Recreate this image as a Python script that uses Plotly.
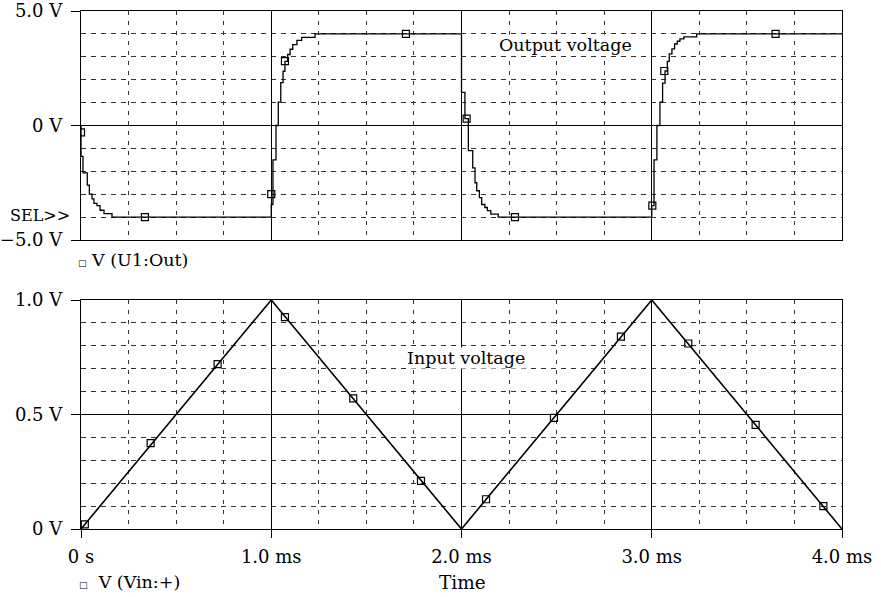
import plotly.graph_objects as go
from plotly.subplots import make_subplots

# ---- data (time in ms) ----
out_t = [0.0, 0.0, 0.0105, 0.033, 0.044, 0.058, 0.068, 0.084, 0.100, 0.121, 0.163,
         1.0, 1.009, 1.025, 1.037, 1.050, 1.062, 1.072, 1.086, 1.099, 1.113, 1.135, 1.160, 1.230,
         2.0, 2.018, 2.036, 2.059, 2.071, 2.080, 2.094, 2.106, 2.123, 2.136, 2.154, 2.193,
         3.0, 3.012, 3.027, 3.043, 3.057, 3.070, 3.082, 3.092, 3.106, 3.120, 3.134, 3.148, 3.169, 3.236,
         4.0]
out_v = [0.0, -1.35, -2.07, -2.6, -3.0, -3.2, -3.4, -3.5, -3.7, -3.85, -4.0,
         -3.45, -1.5, 0.0, 1.02, 1.87, 2.37, 2.8, 3.1, 3.33, 3.53, 3.72, 3.85, 4.0,
         1.45, 0.3, -1.1, -1.85, -2.5, -2.85, -3.15, -3.45, -3.58, -3.72, -3.87, -4.0,
         -3.5, -1.5, 0.0, 1.02, 1.85, 2.38, 2.8, 3.13, 3.35, 3.56, 3.68, 3.78, 3.87, 4.0,
         4.0]
out_mark_t = [0.0, 0.336, 1.0, 1.072, 1.708, 2.027, 2.281, 3.003, 3.066, 3.651]
out_mark_v = [-0.3, -4.0, -3.0, 2.81, 4.0, 0.3, -4.0, -3.5, 2.38, 4.0]

in_t = [0.0, 1.0, 2.0, 3.0, 4.0]
in_v = [0.0, 1.0, 0.0, 1.0, 0.0]
in_mark_t = [0.02, 0.366, 0.718, 1.072, 1.431, 1.787, 2.129, 2.486, 2.838, 3.192, 3.546, 3.902]
in_mark_v = [0.02, 0.375, 0.72, 0.925, 0.57, 0.21, 0.13, 0.485, 0.84, 0.81, 0.455, 0.1]

x_ticks = [0, 1, 2, 3, 4]
x_labels = ["0 s", "1.0 ms", "2.0 ms", "3.0 ms", "4.0 ms"]
top_ticks = [-5, 0, 5]
top_labels = ["\u22125.0 V", "0 V", "5.0 V"]
bot_ticks = [0, 0.5, 1.0]
bot_labels = ["0 V", "0.5 V", "1.0 V"]

FONT = "DejaVu Serif"
fig = make_subplots(rows=2, cols=1, vertical_spacing=0.116)

fig.add_trace(go.Scatter(x=out_t, y=out_v, mode="lines", line=dict(color="black", width=1.3, shape="hv"),
                         showlegend=False), row=1, col=1)
fig.add_trace(go.Scatter(x=out_mark_t, y=out_mark_v, mode="markers",
                         marker=dict(symbol="square-open", size=7, color="black", line=dict(width=1.2)),
                         showlegend=False), row=1, col=1)
fig.add_trace(go.Scatter(x=in_t, y=in_v, mode="lines", line=dict(color="black", width=1.6),
                         showlegend=False), row=2, col=1)
fig.add_trace(go.Scatter(x=in_mark_t, y=in_mark_v, mode="markers",
                         marker=dict(symbol="square-open", size=7, color="black", line=dict(width=1.2)),
                         showlegend=False), row=2, col=1)

hdash = "5px,5px"
vdash = "4px,6px"
common_x = dict(range=[0, 4], tickmode="array", tickvals=x_ticks, showgrid=True, gridcolor="black",
                gridwidth=1, zeroline=False, showline=True, mirror=True, linecolor="black", linewidth=1.3,
                automargin=False,
                minor=dict(tickmode="linear", tick0=0, dtick=0.25, showgrid=True, griddash=vdash,
                           gridcolor="#333", gridwidth=1, ticks=""))
fig.update_xaxes(**common_x, row=1, col=1, showticklabels=False, ticks="")
fig.update_xaxes(**common_x, row=2, col=1, ticktext=x_labels, ticks="outside", ticklen=8,
                 tickcolor="black", tickwidth=1.3, ticklabelstandoff=3)

common_y = dict(tickmode="array", showgrid=True, gridcolor="black", gridwidth=1, zeroline=False,
                showline=True, mirror=True, linecolor="black", linewidth=1.3, ticks="outside",
                ticklen=9, tickcolor="black", tickwidth=1.3, ticklabelstandoff=5, automargin=False)
fig.update_yaxes(**common_y, row=1, col=1, range=[-5, 5], tickvals=top_ticks, ticktext=top_labels,
                 minor=dict(tickmode="linear", tick0=0, dtick=1, showgrid=True, griddash=hdash,
                            gridcolor="#333", gridwidth=1, ticks=""))
fig.update_yaxes(**common_y, row=2, col=1, range=[0, 1], tickvals=bot_ticks, ticktext=bot_labels,
                 minor=dict(tickmode="linear", tick0=0, dtick=0.1, showgrid=True, griddash=hdash,
                            gridcolor="#333", gridwidth=1, ticks=""))

fig.update_layout(
    width=881, height=597,
    margin=dict(l=81, r=39, t=11, b=68),
    paper_bgcolor="white", plot_bgcolor="white",
    font=dict(family=FONT, size=18, color="black"),
    showlegend=False,
)
fig.layout.yaxis.domain = [289 / 518, 1]
fig.layout.yaxis2.domain = [0, 229 / 518]

ann = [
    dict(text="Output voltage", x=2.547, y=3.53, xref="x", yref="y", xanchor="center", yanchor="middle",
         showarrow=False, font=dict(size=17.5), bgcolor="white", borderpad=0),
    dict(text="Input voltage", x=2.021, y=0.747, xref="x2", yref="y2", xanchor="center", yanchor="middle",
         showarrow=False, font=dict(size=17.5), bgcolor="white", borderpad=0),
    dict(text="SEL>>", x=-9 / 761, y=-3.92, xref="paper", yref="y", xanchor="right", yanchor="middle",
         showarrow=False, font=dict(size=16)),
    dict(text="<span style='font-size:9px'>\u25a1</span> V (U1:Out)", x=-5 / 761, y=(529 - 260) / 518,
         xref="paper", yref="paper", xanchor="left", yanchor="middle", showarrow=False, font=dict(size=17.5)),
    dict(text="<span style='font-size:9px'>\u25a1</span>  V (Vin:+)", x=-4 / 761, y=(529 - 582) / 518,
         xref="paper", yref="paper", xanchor="left", yanchor="middle", showarrow=False, font=dict(size=17.5)),
    dict(text="Time", x=(462.5 - 81) / 761, y=(529 - 582) / 518, xref="paper", yref="paper",
         xanchor="center", yanchor="middle", showarrow=False, font=dict(size=18.5)),
]
fig.update_layout(annotations=ann)

fig.write_html("out.html", post_script="document.body.style.margin='0';",
               config={"displayModeBar": False})
